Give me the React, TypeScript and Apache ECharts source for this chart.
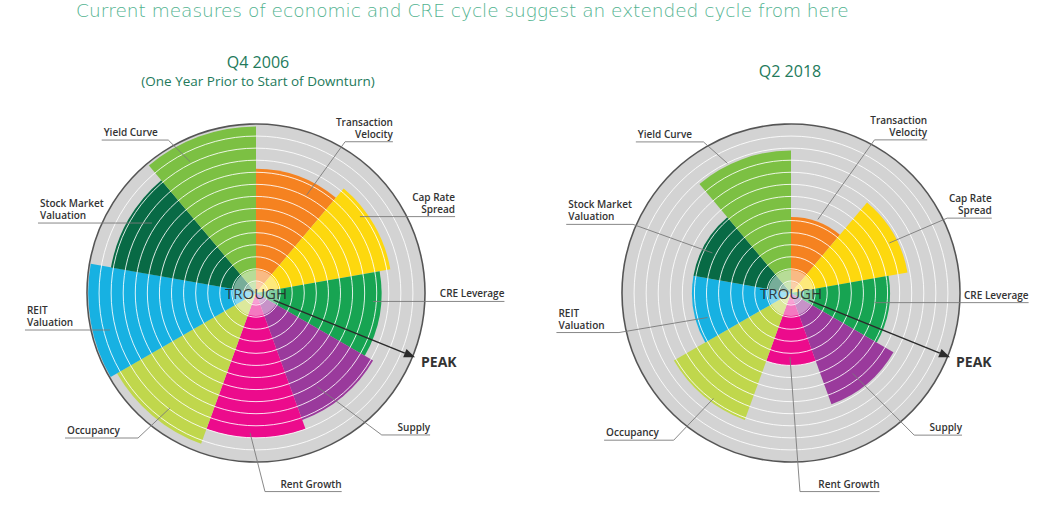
import React, { useEffect, useRef } from 'react';
import * as echarts from 'echarts';

// ---------- data ----------
const categories = [
  'Transaction\nVelocity',
  'Cap Rate\nSpread',
  'CRE Leverage',
  'Supply',
  'Rent Growth',
  'Occupancy',
  'REIT\nValuation',
  'Stock Market\nValuation',
  'Yield Curve',
];
const sectorColors = [
  '#f58220', '#fdd80e', '#17a452', '#9a3a9c', '#ec0b8c',
  '#c0d74c', '#17b1e2', '#086a45', '#7cc043',
];
const values2006 = [10.3, 11.3, 10.4, 11.2, 12.0, 13.3, 13.9, 12.2, 13.8];
const values2018 = [6.3, 9.8, 8.2, 9.8, 6.0, 11.2, 8.2, 8.2, 11.8];
const radiusMax = 14;
const panelTitles = ['Q4 2006', 'Q2 2018'];
const panelSubtitles = ['(One Year Prior to Start of Downturn)', ''];
const mainTitle = 'Current measures of economic and CRE cycle suggest an extended cycle from here';
const hubLabel = 'TROUGH';
const peakLabel = 'PEAK';

// ---------- layout (fractions of the polar radius, relative to its centre) ----------
// [startX, startY, elbowX, elbowY, endX]
const leaders2006 = [
  [0.30, -0.58, 0.527, -0.895, 0.81],
  [0.615, -0.452, 0.615, -0.452, 1.178],
  [0.692, 0.05, 0.692, 0.05, 1.47],
  [0.36, 0.554, 0.744, 0.84, 1.03],
  [-0.035, 0.828, 0.053, 1.175, 0.507],
  [-0.509, 0.68, -0.698, 0.858, -1.13],
  [-0.864, 0.219, -0.864, 0.219, -1.367],
  [-0.615, -0.414, -0.615, -0.414, -1.29],
  [-0.39, -0.777, -0.519, -0.905, -0.913],
];
const leaders2018 = [
  [0.159, -0.435, 0.494, -0.906, 0.806],
  [0.582, -0.296, 0.924, -0.443, 1.188],
  [0.494, 0.057, 0.494, 0.057, 1.406],
  [0.365, 0.476, 0.729, 0.841, 1.012],
  [-0.006, 0.38, 0.053, 1.175, 0.524],
  [-0.459, 0.624, -0.694, 0.871, -1.106],
  [-0.494, 0.145, -1.018, 0.234, -1.388],
  [-0.465, -0.237, -0.935, -0.406, -1.33],
  [-0.376, -0.767, -0.518, -0.894, -0.918],
];
const centers = [[256, 293], [791, 293]];
const outerR = 169;
const peakAngleDeg = 22;

const labelFont = { fontFamily: 'Open Sans', fontWeight: 600, fontSize: 10, fill: '#333' };

function makeRenderItem(leaders: number[][]) {
  return (params: any, api: any) => {
    const cs = params.coordSys;
    const cx = cs.cx, cy = cs.cy, r = cs.r;
    const i = params.dataIndex;
    if (i < leaders.length) {
      const [sx, sy, ex, ey, endX] = leaders[i];
      const toRight = endX > ex;
      const pts = [
        [cx + sx * r, cy + sy * r],
        [cx + ex * r, cy + ey * r],
        [cx + endX * r, cy + ey * r],
      ];
      return {
        type: 'group',
        children: [
          {
            type: 'polyline',
            shape: { points: pts },
            style: { stroke: '#7a7a7a', lineWidth: 0.9, fill: null },
          },
          {
            type: 'text',
            style: {
              text: categories[i],
              x: cx + endX * r + (toRight ? 0 : 2),
              y: cy + ey * r - 2,
              align: toRight ? 'right' : 'left',
              verticalAlign: 'bottom',
              lineHeight: 12,
              ...labelFont,
            },
          },
        ],
      };
    }
    // PEAK arrow
    const a = (peakAngleDeg * Math.PI) / 180;
    const ux = Math.cos(a), uy = Math.sin(a);
    const nx = -uy, ny = ux;
    const r0 = 19;
    const tipR = r * 1.015;
    const tip = [cx + ux * tipR, cy + uy * tipR];
    const base = [tip[0] - ux * 11, tip[1] - uy * 11];
    return {
      type: 'group',
      children: [
        {
          type: 'line',
          shape: { x1: cx + ux * r0, y1: cy + uy * r0, x2: base[0], y2: base[1] },
          style: { stroke: '#2b2b2b', lineWidth: 1.5 },
        },
        {
          type: 'polygon',
          shape: {
            points: [
              tip,
              [base[0] + nx * 4.5, base[1] + ny * 4.5],
              [base[0] - nx * 4.5, base[1] - ny * 4.5],
            ],
          },
          style: { fill: '#2b2b2b' },
        },
        {
          type: 'text',
          style: {
            text: peakLabel,
            x: tip[0] + 6,
            y: tip[1] + 4,
            align: 'left',
            verticalAlign: 'middle',
            fontFamily: 'Open Sans',
            fontWeight: 700,
            fontSize: 14,
            fill: '#333',
          },
        },
      ],
    };
  };
}

function buildPanel(idx: number, values: number[], leaders: number[][]) {
  const center = centers[idx];
  return [
    {
      type: 'pie',
      center,
      radius: [0, outerR],
      silent: true,
      z: 1,
      label: { show: false },
      labelLine: { show: false },
      itemStyle: { color: '#d3d3d3' },
      data: [{ value: 1, name: 'bg' }],
    },
    {
      type: 'bar',
      coordinateSystem: 'polar',
      polarIndex: idx,
      barCategoryGap: '0%',
      silent: true,
      z: 2,
      data: values.map((v, i) => ({ value: v, itemStyle: { color: sectorColors[i] } })),
    },
    {
      type: 'pie',
      center,
      radius: [0, 23],
      silent: true,
      z: 5,
      label: { show: false },
      labelLine: { show: false },
      itemStyle: { color: 'rgba(255,255,255,0.45)' },
      data: [{ value: 1, name: 'hub' }],
    },
    {
      type: 'pie',
      center,
      radius: [0, 11],
      silent: true,
      z: 5,
      labelLine: { show: false },
      itemStyle: { color: 'rgba(255,255,255,0.3)' },
      label: {
        show: true,
        position: 'center',
        formatter: hubLabel,
        fontFamily: 'Open Sans',
        fontSize: 15,
        color: 'rgba(40,40,40,0.9)',
      },
      data: [{ value: 1, name: 'hubInner' }],
    },
    {
      type: 'custom',
      coordinateSystem: 'polar',
      polarIndex: idx,
      silent: true,
      z: 6,
      renderItem: makeRenderItem(leaders),
      data: [...categories.map((_, i) => [0, i]), [0, 0]],
    },
  ];
}

export default function App() {
  const ref = useRef<HTMLDivElement>(null);
  useEffect(() => {
    document.body.style.margin = '0';
    const chart = echarts.init(ref.current!, null, { renderer: 'svg' });
    const angleAxisBase = (i: number) => ({
      polarIndex: i,
      type: 'category',
      data: categories,
      startAngle: 90,
      clockwise: true,
      z: 4,
      axisLine: { show: true, lineStyle: { color: '#555', width: 1.6 } },
      axisTick: { show: false },
      axisLabel: { show: false },
      splitLine: { show: false },
    });
    const radiusAxisBase = (i: number) => ({
      polarIndex: i,
      type: 'value',
      min: 0,
      max: radiusMax,
      interval: 1,
      z: 3,
      axisLine: { show: false },
      axisTick: { show: false },
      axisLabel: { show: false },
      splitLine: { show: true, lineStyle: { color: 'rgba(255,255,255,0.85)', width: 1 } },
    });
    chart.setOption({
      animation: false,
      backgroundColor: '#ffffff',
      title: {
        text: mainTitle,
        left: 71,
        top: -4,
        textStyle: { fontFamily: 'DejaVu Sans', fontWeight: 'lighter', fontSize: 18.5, color: '#52b390' },
      },
      graphic: [
        {
          type: 'text', x: 258, y: 62,
          style: { text: panelTitles[0], align: 'center', verticalAlign: 'middle', fontFamily: 'Open Sans', fontSize: 16, fill: '#237a5b' },
        },
        {
          type: 'text', x: 258, y: 81,
          style: { text: panelSubtitles[0], align: 'center', verticalAlign: 'middle', fontFamily: 'Open Sans', fontSize: 13.5, fill: '#237a5b' },
        },
        {
          type: 'text', x: 790, y: 71,
          style: { text: panelTitles[1], align: 'center', verticalAlign: 'middle', fontFamily: 'Open Sans', fontSize: 16, fill: '#237a5b' },
        },
      ],
      polar: [
        { center: centers[0], radius: [0, outerR] },
        { center: centers[1], radius: [0, outerR] },
      ],
      angleAxis: [angleAxisBase(0), angleAxisBase(1)],
      radiusAxis: [radiusAxisBase(0), radiusAxisBase(1)],
      series: [...buildPanel(0, values2006, leaders2006), ...buildPanel(1, values2018, leaders2018)],
    });
    return () => chart.dispose();
  }, []);
  return <div ref={ref} style={{ width: 1055, height: 506 }} />;
}
